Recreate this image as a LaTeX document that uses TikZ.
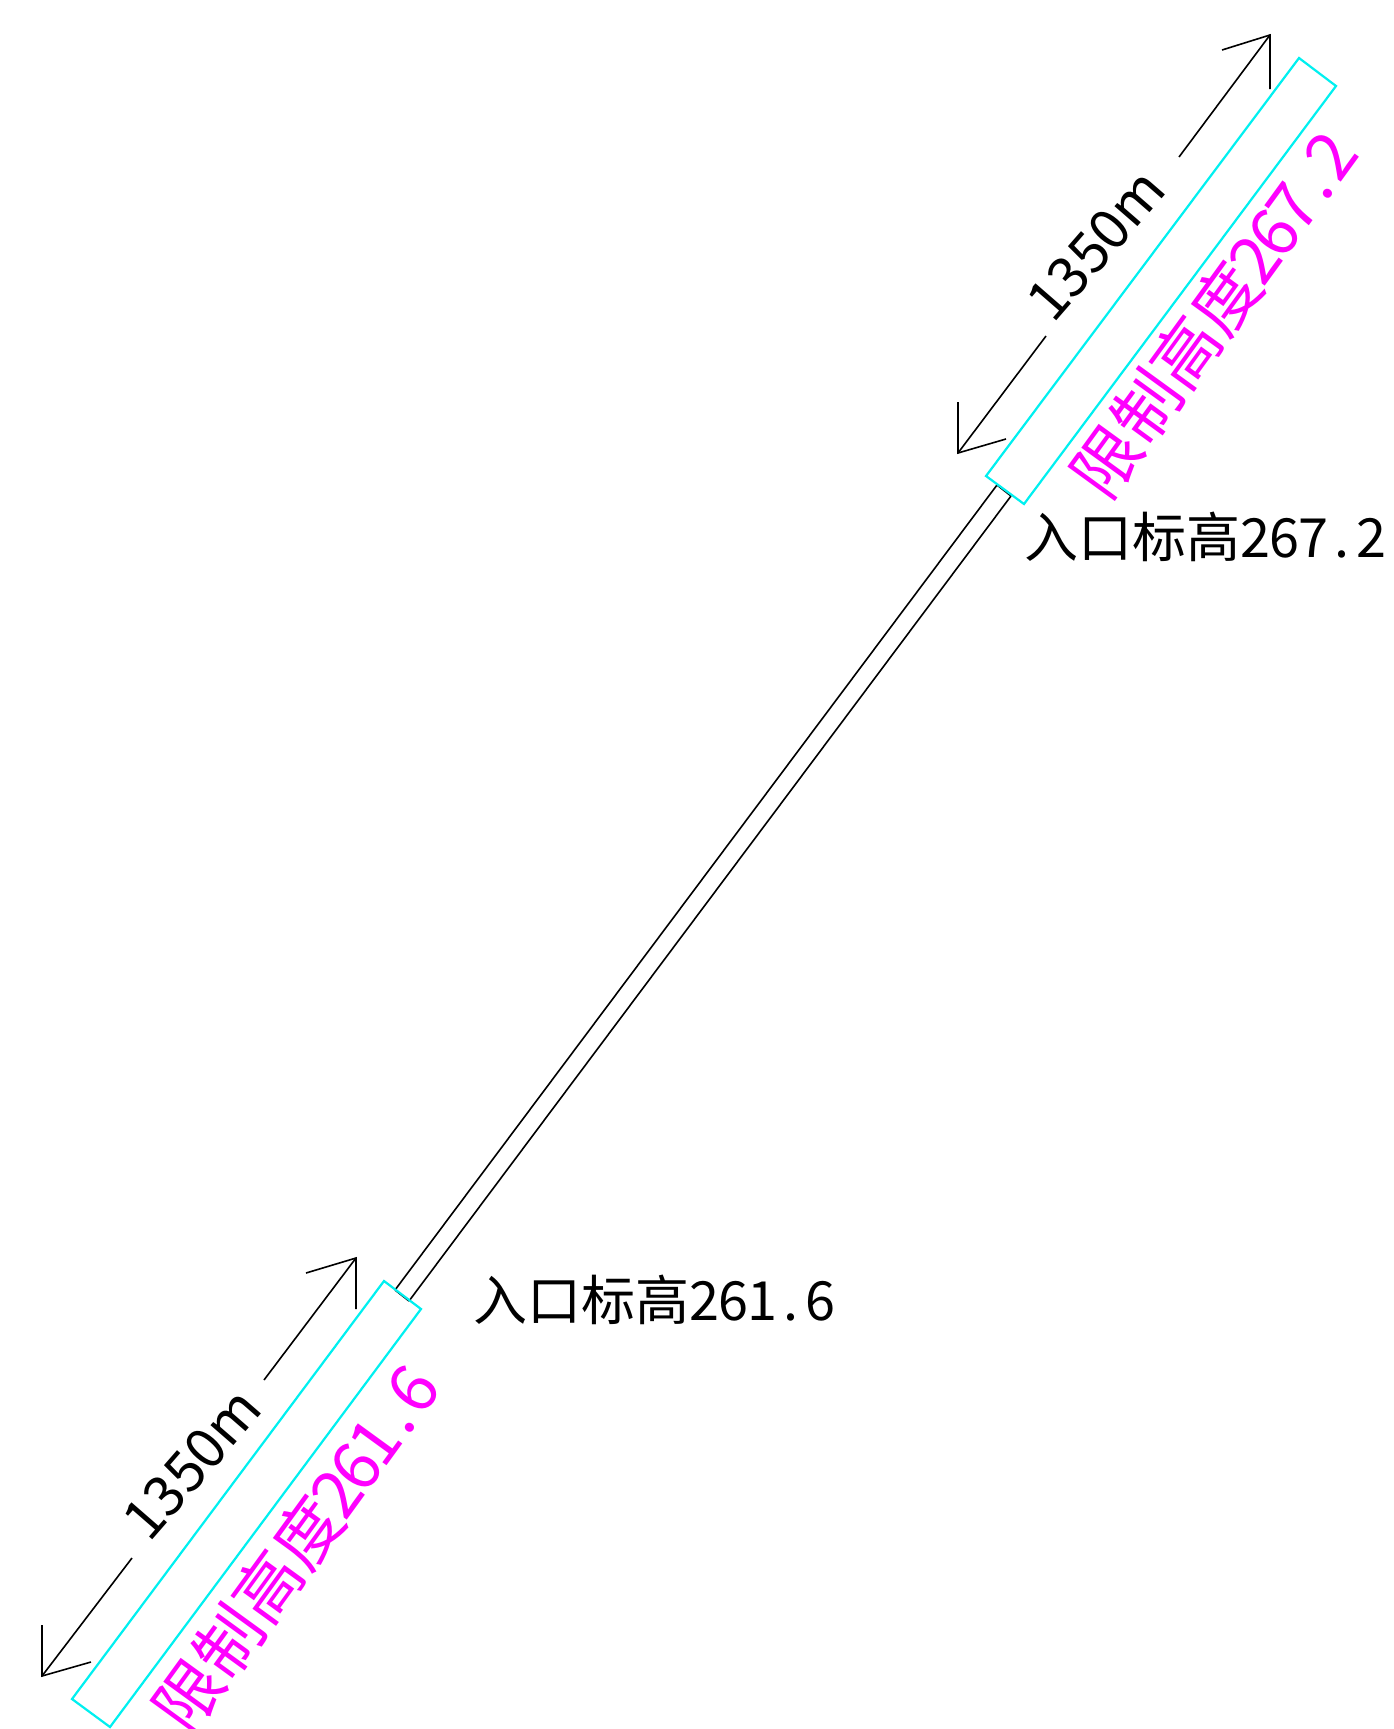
\documentclass[tikz,border=0pt]{standalone}
\usepackage{fontspec}
\newfontfamily\cjk{Noto Sans CJK SC}
\definecolor{cadcyan}{RGB}{0,240,240}
\definecolor{cadmag}{RGB}{255,0,255}
\newcommand{\dg}[1]{\makebox[29pt][c]{#1}}
\newcommand{\dgm}[1]{\makebox[32pt][c]{#1}}
\tikzset{
  zone/.style={draw=cadcyan,line width=2.2pt,line join=miter},
  road/.style={draw=black,line width=1.6pt},
  dim/.style={draw=black,line width=1.6pt},
  elev/.style={font=\cjk\fontsize{54}{54}\selectfont,text=black,inner sep=0pt},
  limit/.style={font=\cjk\fontsize{67}{67}\selectfont,text=cadmag,inner sep=0pt,rotate=54},
  len/.style={font=\cjk\fontsize{56}{56}\selectfont,text=black,inner sep=0pt,rotate=49},
}
\begin{document}
\begin{tikzpicture}[x=1pt,y=-1pt]
\useasboundingbox (0,0) rectangle (1394,1729);
\fill[white] (0,0) rectangle (1394,1729);
% road
\coordinate (ra) at (997,485); \coordinate (rb) at (1011,496);
\coordinate (rc) at (395,1290); \coordinate (rd) at (409,1301);
\draw[road] (ra) -- (rc);
\draw[road] (rb) -- (rd);
\draw[road] (ra) -- (rb);
\draw[road] (rc) -- (rd);
% zones
\coordinate (ta) at (1299,58); \coordinate (tb) at (1336,86);
\coordinate (tc) at (1024,504); \coordinate (td) at (986,476);
\draw[zone] (ta) -- (tb) -- (tc) -- (td) -- cycle;
\coordinate (ba) at (384,1281); \coordinate (bb) at (421,1309);
\coordinate (bc) at (110,1727); \coordinate (bd) at (72,1699);
\draw[zone] (ba) -- (bb) -- (bc) -- (bd) -- cycle;
% dimension arrows top
\coordinate (a1) at (1179,157); \coordinate (a2) at (1270,35);
\coordinate (a3) at (1222,50); \coordinate (a4) at (1270,89);
\draw[dim] (a1) -- (a2); \draw[dim] (a3) -- (a2) -- (a4);
\coordinate (a5) at (1046,336); \coordinate (a6) at (958,453);
\coordinate (a7) at (958,402); \coordinate (a8) at (1006,439);
\draw[dim] (a5) -- (a6); \draw[dim] (a7) -- (a6) -- (a8);
% dimension arrows bottom
\coordinate (b1) at (264,1380); \coordinate (b2) at (356,1258);
\coordinate (b3) at (306,1273); \coordinate (b4) at (356,1309);
\draw[dim] (b1) -- (b2); \draw[dim] (b3) -- (b2) -- (b4);
\coordinate (b5) at (132,1558); \coordinate (b6) at (42,1676);
\coordinate (b7) at (42,1625); \coordinate (b8) at (91,1662);
\draw[dim] (b5) -- (b6); \draw[dim] (b7) -- (b6) -- (b8);
% texts
\node[elev] (e1) at (1205,537) {入口标高\dg{2}\dg{6}\dg{7}\dg{.}\dg{2}};
\node[elev] (e2) at (654,1300) {入口标高\dg{2}\dg{6}\dg{1}\dg{.}\dg{6}};
\node[limit] (l1) at (1213,315) {限制高度\dgm{2}\dgm{6}\dgm{7}\dgm{.}\dgm{2}};
\node[limit] (l2) at (295,1549) {限制高度\dgm{2}\dgm{6}\dgm{1}\dgm{.}\dgm{6}};
\node[len] (d1) at (1096,245) {1350m};
\node[len] (d2) at (192,1464) {1350m};
\end{tikzpicture}
\end{document}
